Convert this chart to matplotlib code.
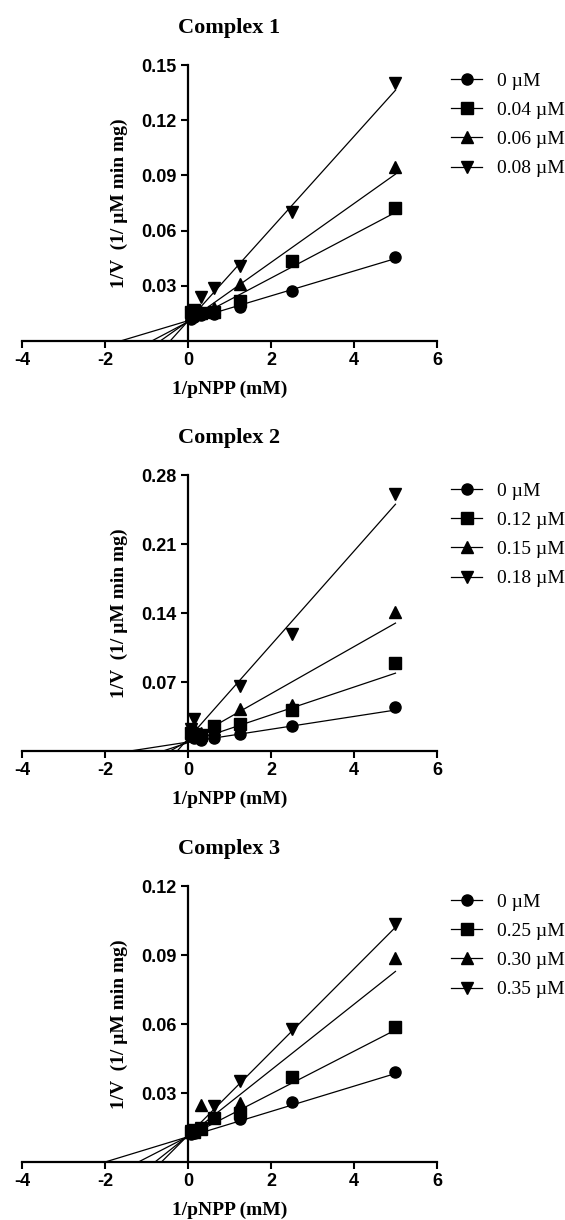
import numpy as np
import matplotlib.pyplot as plt
from matplotlib.lines import Line2D

nan = np.nan

# shared x values (1/[pNPP], mM^-1)
inv_pnpp = [0.078, 0.156, 0.3125, 0.625, 1.25, 2.5, 5.0]
markers = ['o', 's', '^', 'v']
x_ticks = [-4, -2, 0, 2, 4, 6]

# Complex 1
c1_labels = ['0 µM', '0.04 µM', '0.06 µM', '0.08 µM']
c1_0 = [0.012, 0.013, 0.014, 0.0145, 0.0185, 0.027, 0.0455]
c1_1 = [0.016, 0.017, 0.015, 0.016, 0.022, 0.0435, 0.0725]
c1_2 = [0.014, 0.015, 0.016, 0.018, 0.031, nan, 0.0945]
c1_3 = [0.014, 0.016, 0.024, 0.029, 0.0405, 0.070, 0.140]
c1_slope = [0.00676, 0.0119, 0.0160, 0.0251]
c1_icpt = [0.0110, 0.0104, 0.0107, 0.0108]
c1_yticks = [0.03, 0.06, 0.09, 0.12, 0.15]

# Complex 2
c2_labels = ['0 µM', '0.12 µM', '0.15 µM', '0.18 µM']
c2_0 = [0.016, 0.0135, 0.011, 0.0135, 0.017, 0.0255, 0.045]
c2_1 = [0.018, 0.017, 0.016, 0.025, 0.027, 0.042, 0.089]
c2_2 = [0.020, 0.023, 0.018, 0.022, 0.043, 0.047, 0.141]
c2_3 = [0.022, 0.033, nan, nan, 0.066, 0.119, 0.261]
c2_slope = [0.0065, 0.0141, 0.0239, 0.0476]
c2_icpt = [0.0091, 0.0085, 0.0103, 0.0124]
c2_yticks = [0.07, 0.14, 0.21, 0.28]

# Complex 3
c3_labels = ['0 µM', '0.25 µM', '0.30 µM', '0.35 µM']
c3_0 = [0.012, 0.0125, 0.0142, nan, 0.0188, 0.0263, 0.039]
c3_1 = [0.013, 0.013, 0.0145, 0.0192, 0.0213, 0.0371, 0.0588]
c3_2 = [0.013, 0.014, 0.0248, nan, 0.0257, nan, 0.0889]
c3_3 = [0.0135, 0.014, 0.015, 0.0244, 0.0354, 0.0578, 0.1033]
c3_slope = [0.0055, 0.00927, 0.0143, 0.0181]
c3_icpt = [0.0110, 0.0111, 0.0114, 0.0116]
c3_yticks = [0.03, 0.06, 0.09, 0.12]

panels = [
    ('Complex 1', c1_labels, [c1_0, c1_1, c1_2, c1_3], c1_slope, c1_icpt, c1_yticks),
    ('Complex 2', c2_labels, [c2_0, c2_1, c2_2, c2_3], c2_slope, c2_icpt, c2_yticks),
    ('Complex 3', c3_labels, [c3_0, c3_1, c3_2, c3_3], c3_slope, c3_icpt, c3_yticks),
]

plt.rcParams['font.family'] = ['Liberation Serif', 'DejaVu Serif']
tick_font = dict(fontfamily='Liberation Sans', fontweight='bold', fontsize=13)

fig = plt.figure(figsize=(5.65, 12.2), dpi=100)
bottoms = [0.7205, 0.3844, 0.0475]

for (title, labels, series, slopes, icpts, yticks), bot in zip(panels, bottoms):
    ax = fig.add_axes([0.0389, bot, 0.7345, 0.2262])

    handles = []
    for vals, m, k, b in zip(series, markers, slopes, icpts):
        # regression line from x-intercept to last point
        xs = np.array([-b / k, inv_pnpp[-1]])
        ax.plot(xs, b + k * xs, color='k', lw=0.9, zorder=2)
        ax.plot(inv_pnpp, vals, ls='none', marker=m, ms=8, color='k', zorder=3)
        handles.append(Line2D([], [], color='k', lw=0.9, marker=m, ms=8))

    ax.set_xlim(-4, 6)
    ax.set_ylim(0, yticks[-1])
    ax.spines['left'].set_position(('data', 0))
    ax.spines['top'].set_visible(False)
    ax.spines['right'].set_visible(False)
    for s in ('left', 'bottom'):
        ax.spines[s].set_linewidth(1.6)
    ax.set_xticks(x_ticks, labels=[str(t) for t in x_ticks], **tick_font)
    ax.set_yticks(yticks, labels=[f'{t:.2f}' for t in yticks], **tick_font)
    ax.tick_params(direction='out', length=5, width=1.5, pad=3)

    ax.set_title(title, fontsize=16, fontweight='bold', pad=23)
    ax.set_xlabel('1/pNPP (mM)', fontsize=14, fontweight='bold')
    ax.set_ylabel('1/V  (1/ µM min mg)', fontsize=14, fontweight='bold')
    ax.xaxis.set_label_coords(0.5, -0.145)
    ax.yaxis.set_label_coords(0.255, 0.5)

    ax.legend(handles, labels, loc='upper left', bbox_to_anchor=(1.034, 0.975),
              frameon=False, fontsize=14, borderaxespad=0, borderpad=0,
              handlelength=1.6, handletextpad=0.75, labelspacing=0.6)

fig.savefig('out.png', dpi=100)
